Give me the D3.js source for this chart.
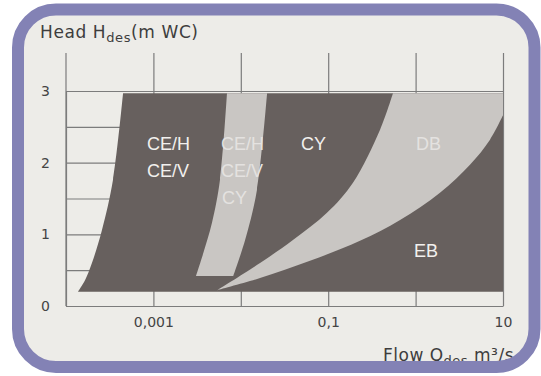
<!DOCTYPE html>
<html>
<head>
<meta charset="utf-8">
<script src="https://cdn.jsdelivr.net/npm/d3@7"></script>
<style>
  html, body { margin: 0; padding: 0; background: #ffffff; }
  svg { display: block; }
</style>
</head>
<body>
<svg id="chart" width="541" height="376"></svg>
<script>
// axis ticks
const flowTicks = [0.001, 0.01, 0.1, 1, 10];
const flowLabels = { 0.001: "0,001", 0.1: "0,1", 10: "10" };
const headTicks = [0, 0.5, 1, 1.5, 2, 2.5, 3];
const headLabels = { 0: "0", 1: "1", 2: "2", 3: "3" };

// CE (dark) envelope, left boundary
const darkLeftQ = [0.000137, 0.000165, 0.000198, 0.000258, 0.000345, 0.00045];
const darkLeftH = [0.2, 0.36, 0.6, 1.06, 1.76, 2.97];
const darkTopH = 2.97, darkBottomH = 0.2, maxQ = 10;

// light band between CE and CY
const bandLeftQ = [0.00307, 0.0036, 0.00468, 0.00578, 0.00695];
const bandLeftH = [0.42, 0.68, 1.16, 1.76, 2.97];
const bandRightQ = [0.0082, 0.0112, 0.0153, 0.02];
const bandRightH = [0.42, 0.92, 1.62, 2.97];

// DB crescent
const dbUpperQ = [0.00535, 0.0166, 0.0395, 0.0968, 0.192, 0.392, 0.551];
const dbUpperH = [0.22, 0.6, 0.92, 1.3, 1.72, 2.46, 2.97];
const dbLowerQ = [0.00535, 0.0166, 0.0619, 0.231, 0.664, 1.9, 4.19, 7.1, 10];
const dbLowerH = [0.22, 0.39, 0.63, 0.91, 1.2, 1.58, 1.97, 2.32, 2.66];

// region labels
const labelText = ["CE/H", "CE/V", "CE/H", "CE/V", "CY", "CY", "DB", "EB"];
const labelQ = [0.000845, 0.000845, 0.00593, 0.00593, 0.00609, 0.0489, 1.01, 0.96];
const labelH = [2.18, 1.8, 2.18, 1.8, 1.42, 2.18, 2.18, 0.68];
const labelOnLight = [false, false, true, true, true, false, true, false];

const svg = d3.select("#chart");
const x = d3.scaleLog().domain([0.0001, 10]).range([66, 503]);
const y = d3.scaleLinear().domain([0, 3]).range([306, 91]);

const dark = "#67605e", light = "#c9c6c3", gridCol = "#7c7c7c";
const font = "'DejaVu Sans', sans-serif";

// background panel
svg.append("rect")
  .attr("x", 18).attr("y", 9.5).attr("width", 516.5).attr("height", 357.5)
  .attr("rx", 38).attr("fill", "#edece8");

// grid + axes
const xAxis = svg.append("g")
  .attr("transform", "translate(0," + y(0) + ")")
  .call(d3.axisBottom(x).tickValues(flowTicks).tickSizeInner(-(y(0) - 53)).tickSizeOuter(0)
    .tickPadding(11).tickFormat(d => flowLabels[d] || ""));
const yAxis = svg.append("g")
  .attr("transform", "translate(" + x(0.0001) + ",0)")
  .call(d3.axisLeft(y).tickValues(headTicks).tickSizeInner(-(x(10) - x(0.0001))).tickSizeOuter(0)
    .tickPadding(16).tickFormat(d => headLabels[d] || ""));
[xAxis, yAxis].forEach(g => {
  g.selectAll("line, path").attr("stroke", gridCol).attr("stroke-width", 1.2);
  g.selectAll("text").attr("fill", "#444").style("font-family", font)
    .style("font-size", "14px");
});
svg.append("line")
  .attr("x1", x(0.0001)).attr("x2", x(0.0001)).attr("y1", 53).attr("y2", y(0))
  .attr("stroke", gridCol).attr("stroke-width", 1.2);

const line = d3.line().x(d => x(d[0])).y(d => y(d[1])).curve(d3.curveCatmullRom);
const zip = (a, b) => a.map((v, i) => [v, b[i]]);
const seg = pts => line(pts).replace(/^M/, "L");

// dark envelope
const darkLeft = zip(darkLeftQ, darkLeftH);
svg.append("path")
  .attr("d", line(darkLeft) + "L" + x(maxQ) + "," + y(darkTopH) + "L" + x(maxQ) + "," + y(darkBottomH) + "Z")
  .attr("fill", dark);

// light band
const bandL = zip(bandLeftQ, bandLeftH);
const bandR = zip(bandRightQ, bandRightH).reverse();
svg.append("path")
  .attr("d", line(bandL) + seg(bandR) + "Z")
  .attr("fill", light);

// DB crescent
const dbU = zip(dbUpperQ, dbUpperH);
const dbL = zip(dbLowerQ, dbLowerH).reverse();
svg.append("path")
  .attr("d", line(dbU) + "L" + x(maxQ) + "," + y(darkTopH) + seg(dbL) + "Z")
  .attr("fill", light);

// region labels
svg.append("g").selectAll("text")
  .data(labelText)
  .join("text")
  .attr("x", (d, i) => x(labelQ[i]))
  .attr("y", (d, i) => y(labelH[i]))
  .attr("fill", (d, i) => labelOnLight[i] ? "#e4e2e0" : "#f2f0ee")
  .style("font-family", "'Liberation Sans', sans-serif")
  .style("font-size", "18px")
  .text(d => d);

// axis titles
const title = svg.append("text")
  .attr("x", 40).attr("y", 38).attr("fill", "#3d3d3d")
  .style("font-family", font).style("font-size", "17px").style("letter-spacing", "0.6px");
title.append("tspan").text("Head H");
title.append("tspan").attr("dy", 4).style("font-size", "13px").text("des");
title.append("tspan").attr("dy", -4).text("(m WC)");

const xTitle = svg.append("text")
  .attr("x", 514).attr("y", 361).attr("text-anchor", "end").attr("fill", "#3d3d3d")
  .style("font-family", font).style("font-size", "17px").style("letter-spacing", "0.5px");
xTitle.append("tspan").text("Flow Q");
xTitle.append("tspan").attr("dy", 4).style("font-size", "13px").text("des");
xTitle.append("tspan").attr("dy", -4).text(" m\u00b3/s");

// frame
svg.append("rect")
  .attr("x", 18).attr("y", 9.5).attr("width", 516.5).attr("height", 357.5)
  .attr("rx", 38).attr("fill", "none").attr("stroke", "#8382b5").attr("stroke-width", 12);
</script>
</body>
</html>
